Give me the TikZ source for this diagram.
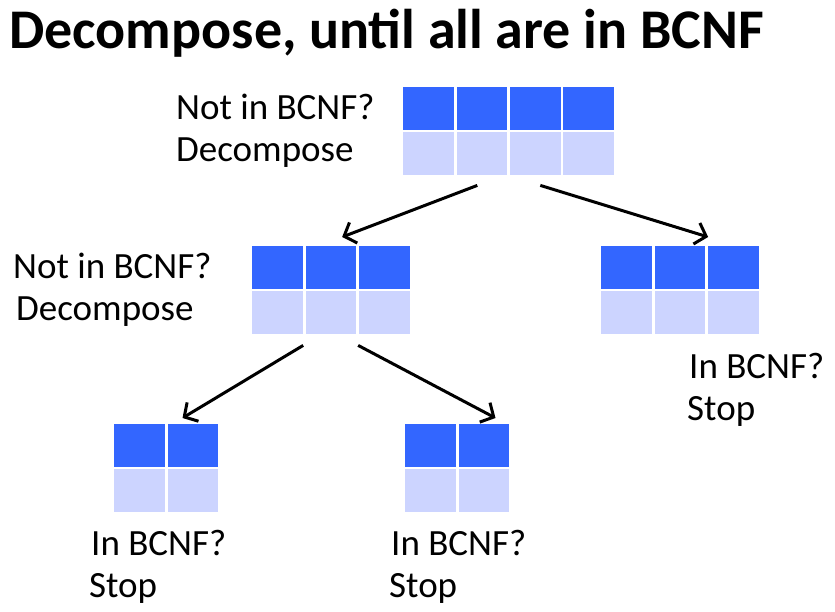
\documentclass[tikz,border=0pt]{standalone}
\usepackage{fontspec}
\setmainfont{Carlito}
\usepackage{tikz}
\usetikzlibrary{arrows.meta}

\definecolor{keyblue}{RGB}{51,102,255}
\definecolor{attblue}{RGB}{204,212,255}

\tikzset{
  keycell/.style={fill=keyblue, draw=white, line width=2.5pt},
  attcell/.style={fill=attblue, draw=white, line width=2.5pt},
  tblframe/.style={inner sep=0pt, minimum height=90pt},
  txt/.style={font=\fontsize{37}{44}\selectfont, anchor=base west, inner sep=0pt},
  split/.style={line width=3pt, -{Straight Barb[length=10pt,width=22pt]}}
}

% name, left, top, columns
\newcommand{\reltable}[4]{%
  \node[tblframe, minimum width=#4*53.3pt, anchor=north west] (#1) at (#2,#3) {};
  \foreach \c in {1,...,#4}{
    \pgfmathsetmacro{\xa}{#2+(\c-1)*53.3}
    \pgfmathsetmacro{\xb}{#2+\c*53.3}
    \draw[keycell] (\xa,#3) rectangle (\xb,#3+45);
    \draw[attcell] (\xa,#3+45) rectangle (\xb,#3+90);
  }
}

\begin{document}
\begin{tikzpicture}[x=1pt, y=-1pt]
		\useasboundingbox (0,0) rectangle (835,611);
		\node[anchor=base west, inner sep=0pt, font=\fontsize{56}{60}\selectfont\bfseries] (title) at (9,48) {Decompose, until all are in BCNF};

		% the relations
		\reltable{top}{402}{86}{4}
		\reltable{midl}{251}{245}{3}
		\reltable{right}{600}{245}{3}
		\reltable{botl}{113}{423}{2}
		\reltable{botm}{404}{423}{2}

		% labels
		\node[txt] (q1) at (176,119) {Not in BCNF?};
		\node[txt] (d1) at (176,161) {Decompose};
		\node[txt] (q2) at (13,278) {Not in BCNF?};
		\node[txt] (d2) at (16,320) {Decompose};
		\node[txt] (q3) at (689,378) {In BCNF?};
		\node[txt] (s3) at (687,420) {Stop};
		\node[txt] (q4) at (91,555) {In BCNF?};
		\node[txt] (s4) at (89,597) {Stop};
		\node[txt] (q5) at (391,555) {In BCNF?};
		\node[txt] (s5) at (389,597) {Stop};

		% decomposition steps
		\draw[split] ([shift={(-31.5,9)}]top.south) -- ([shift={(11,-8)}]midl.north);
		\draw[split] ([shift={(31.5,9)}]top.south) -- ([shift={(28,-8)}]right.north);
		\draw[split] ([shift={(-28,10)}]midl.south) -- ([shift={(16,-5)}]botl.north);
		\draw[split] ([shift={(27,10)}]midl.south) -- ([shift={(38,-5)}]botm.north);
	\end{tikzpicture}
\end{document}
